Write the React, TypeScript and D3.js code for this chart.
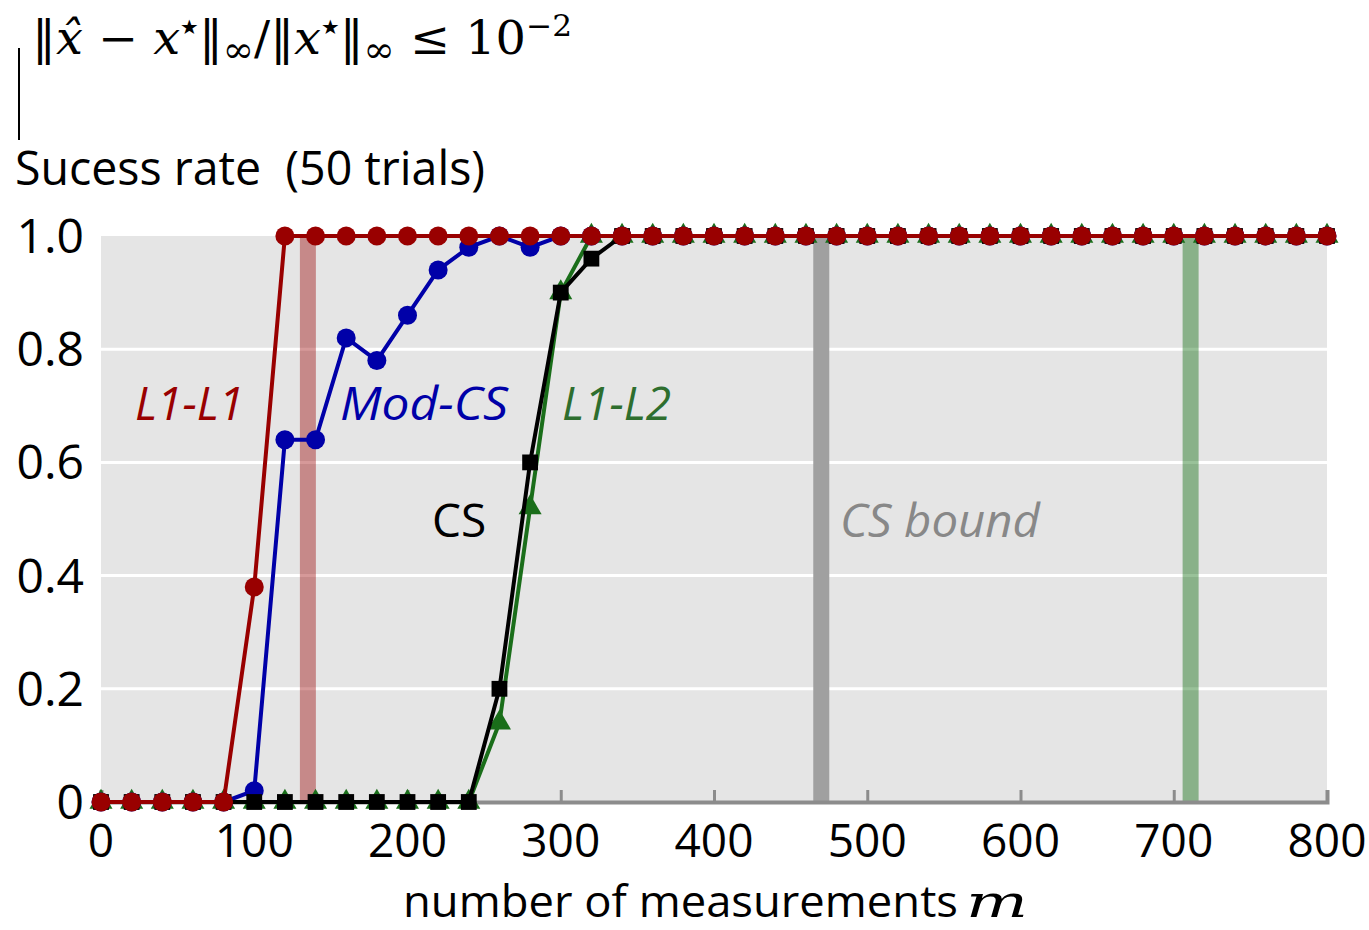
import React, { useRef, useEffect } from "react";
import { select, scaleLinear, line, axisBottom, symbol, symbolTriangle, symbolSquare } from "d3";

// m values, 0..800 step 20
const measurements = [
  0, 20, 40, 60, 80, 100, 120, 140, 160, 180, 200, 220, 240, 260, 280, 300, 320, 340, 360, 380,
  400, 420, 440, 460, 480, 500, 520, 540, 560, 580, 600, 620, 640, 660, 680, 700, 720, 740, 760, 780, 800,
];

const l1l1 = [0, 0, 0, 0, 0, 0.38, 1, 1, 1, 1, 1, 1, 1, 1, 1, 1, 1, 1, 1, 1, 1, 1, 1, 1, 1, 1, 1, 1, 1, 1, 1, 1, 1, 1, 1, 1, 1, 1, 1, 1, 1];
const modCS = [0, 0, 0, 0, 0, 0.02, 0.64, 0.64, 0.82, 0.78, 0.86, 0.94, 0.98, 1, 0.98, 1, 1, 1, 1, 1, 1, 1, 1, 1, 1, 1, 1, 1, 1, 1, 1, 1, 1, 1, 1, 1, 1, 1, 1, 1, 1];
const cs = [0, 0, 0, 0, 0, 0, 0, 0, 0, 0, 0, 0, 0, 0.2, 0.6, 0.9, 0.96, 1, 1, 1, 1, 1, 1, 1, 1, 1, 1, 1, 1, 1, 1, 1, 1, 1, 1, 1, 1, 1, 1, 1, 1];
const l1l2 = [0, 0, 0, 0, 0, 0, 0, 0, 0, 0, 0, 0, 0, 0.14, 0.52, 0.9, 1, 1, 1, 1, 1, 1, 1, 1, 1, 1, 1, 1, 1, 1, 1, 1, 1, 1, 1, 1, 1, 1, 1, 1, 1];

// bound markers (m)
const boundL1L1 = 135;
const boundCS = 470;
const boundL1L2 = 711;

const xTicks = [0, 100, 200, 300, 400, 500, 600, 700, 800];
const yTicks = [0, 0.2, 0.4, 0.6, 0.8, 1.0];
const yTickLabels = ["0", "0.2", "0.4", "0.6", "0.8", "1.0"];

const SANS = "'Open Sans', 'Noto Sans', sans-serif";
const MATH = "'DejaVu Serif', 'Liberation Serif', serif";

const App = () => {
  const svgRef = useRef<SVGSVGElement>(null);

  useEffect(() => {
    const svg = select(svgRef.current);
    svg.selectAll("*").remove();

    const x = scaleLinear().domain([0, 800]).range([101, 1327]);
    const y = scaleLinear().domain([0, 1]).range([802, 236]);

    // background
    svg.append("rect")
      .attr("x", x(0)).attr("y", y(1))
      .attr("width", x(800) - x(0)).attr("height", y(0) - y(1))
      .attr("fill", "#e5e5e5");

    // gridlines
    svg.append("g").selectAll("line")
      .data(yTicks.filter((d) => d > 0 && d < 1))
      .enter().append("line")
      .attr("x1", x(0)).attr("x2", x(800))
      .attr("y1", (d) => y(d)).attr("y2", (d) => y(d))
      .attr("stroke", "#ffffff").attr("stroke-width", 3);

    // bound bands
    const bands = [
      { m: boundL1L1, color: "rgba(153,0,0,0.4)" },
      { m: boundCS, color: "#a0a0a0" },
      { m: boundL1L2, color: "rgba(0,100,0,0.4)" },
    ];
    svg.append("g").selectAll("rect")
      .data(bands)
      .enter().append("rect")
      .attr("x", (d) => x(d.m) - 8).attr("width", 16)
      .attr("y", y(1)).attr("height", y(0) - y(1))
      .attr("fill", (d) => d.color);

    // x axis
    const xAxis = axisBottom(x).tickValues(xTicks).tickSize(-12).tickFormat(() => "");
    const gx = svg.append("g").attr("transform", `translate(0,${y(0)})`).call(xAxis);
    gx.select(".domain").attr("stroke", "#8c8c8c").attr("stroke-width", 4);
    gx.selectAll(".tick line").attr("stroke", "#8c8c8c").attr("stroke-width", 3);

    svg.append("g").selectAll("text")
      .data(xTicks)
      .enter().append("text")
      .attr("x", (d) => x(d)).attr("y", 857)
      .attr("text-anchor", "middle")
      .attr("font-family", SANS).attr("font-size", 46)
      .text((d) => String(d));

    svg.append("g").selectAll("text")
      .data(yTicks)
      .enter().append("text")
      .attr("x", 84).attr("y", (d) => y(d) + 17)
      .attr("text-anchor", "end")
      .attr("font-family", SANS).attr("font-size", 48)
      .text((d, i) => yTickLabels[i]);

    const pts = (vals: number[]) => measurements.map((m, i) => [m, vals[i]] as [number, number]);
    const lineGen = line<[number, number]>().x((d) => x(d[0])).y((d) => y(d[1]));

    const series = [
      { vals: l1l2, color: "#1a6e1a", marker: "tri" },
      { vals: modCS, color: "#0000a8", marker: "circle" },
      { vals: cs, color: "#000000", marker: "square" },
      { vals: l1l1, color: "#990000", marker: "circle" },
    ];

    series.forEach((s) => {
      const g = svg.append("g");
      g.append("path")
        .datum(pts(s.vals))
        .attr("d", lineGen)
        .attr("fill", "none")
        .attr("stroke", s.color)
        .attr("stroke-width", 4)
        .attr("stroke-linejoin", "round");
      if (s.marker === "circle") {
        g.selectAll("circle").data(pts(s.vals)).enter().append("circle")
          .attr("cx", (d) => x(d[0])).attr("cy", (d) => y(d[1]))
          .attr("r", 9.5).attr("fill", s.color);
      } else {
        const sym = symbol().type(s.marker === "tri" ? symbolTriangle : symbolSquare).size(s.marker === "tri" ? 230 : 250);
        g.selectAll("path.m").data(pts(s.vals)).enter().append("path")
          .attr("class", "m")
          .attr("transform", (d) => `translate(${x(d[0])},${y(d[1])})`)
          .attr("d", sym() as string)
          .attr("fill", s.color);
      }
    });
  }, []);

  return (
    <div style={{ position: "absolute", left: 0, top: 0 }}>
      <svg ref={svgRef} width={1369} height={930} style={{ display: "block" }} />
      <svg width={1369} height={930} style={{ position: "absolute", left: 0, top: 0 }}>
        {/* formula */}
        <text x={32} y={54} fontFamily={MATH} fontSize={46} textLength={540} lengthAdjust="spacingAndGlyphs">
          <tspan>‖</tspan>
          <tspan fontStyle="italic">x̂</tspan>
          <tspan> − </tspan>
          <tspan fontStyle="italic">x</tspan>
          <tspan fontSize={20} dy={-20}>★</tspan>
          <tspan dy={20}>‖</tspan>
          <tspan fontSize={36} dy={8}>∞</tspan>
          <tspan dy={-8}>/‖</tspan>
          <tspan fontStyle="italic">x</tspan>
          <tspan fontSize={20} dy={-20}>★</tspan>
          <tspan dy={20}>‖</tspan>
          <tspan fontSize={36} dy={8}>∞</tspan>
          <tspan dy={-8}> ≤ 10</tspan>
          <tspan fontSize={30} dy={-18}>−2</tspan>
        </text>
        <line x1={19} y1={48} x2={19} y2={140} stroke="#000" strokeWidth={2} />
        <text x={15} y={185} fontFamily={SANS} fontSize={48} textLength={470} lengthAdjust="spacingAndGlyphs">
          {"Sucess rate\u00a0\u00a0(50 trials)"}
        </text>
        <text x={135} y={420} fontFamily={SANS} fontSize={46} fontStyle="italic" fill="#990000">L1-L1</text>
        <text x={340} y={420} fontFamily={SANS} fontSize={46} fontStyle="italic" fill="#0000a8" textLength={168} lengthAdjust="spacingAndGlyphs">Mod-CS</text>
        <text x={562} y={420} fontFamily={SANS} fontSize={46} fontStyle="italic" fill="#2e6e2e">L1-L2</text>
        <text x={432} y={537} fontFamily={SANS} fontSize={46} fill="#000">CS</text>
        <text x={840} y={537} fontFamily={SANS} fontSize={46} fontStyle="italic" fill="#888888" textLength={200} lengthAdjust="spacingAndGlyphs">CS bound</text>
        <text x={403} y={917} fontFamily={SANS} fontSize={44} textLength={555} lengthAdjust="spacingAndGlyphs">
          number of measurements
        </text>
        <text x={966} y={917} fontFamily={MATH} fontStyle="italic" fontSize={44} textLength={62} lengthAdjust="spacingAndGlyphs">m</text>
      </svg>
    </div>
  );
};

export default App;
